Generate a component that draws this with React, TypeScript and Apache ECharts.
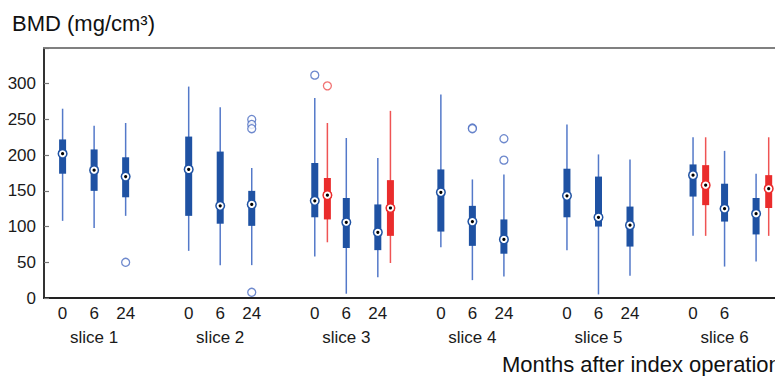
import React, { useEffect, useRef } from "react";
import * as echarts from "echarts";

// Categories
const slices = ["slice 1", "slice 2", "slice 3", "slice 4", "slice 5", "slice 6"];
const months = ["0", "6", "24"];

// Blue boxes: [min, Q1, median, Q3, max] in order slice1(0,6,24), slice2(...), ...
const blueStats: number[][] = [
  [108, 174, 202, 222, 265], [98, 150, 179, 208, 241], [115, 141, 170, 197, 245],
  [66, 115, 180, 226, 296], [46, 104, 129, 205, 267], [46, 101, 131, 150, 182],
  [58, 113, 136, 189, 280], [6, 70, 106, 140, 224], [29, 67, 92, 131, 196],
  [71, 93, 148, 180, 285], [25, 73, 107, 129, 166], [30, 62, 82, 110, 173],
  [67, 113, 143, 181, 243], [5, 100, 113, 170, 201], [31, 72, 102, 128, 194],
  [87, 142, 172, 187, 225], [44, 107, 125, 160, 206], [51, 89, 118, 140, 174],
];

// Red boxes: [slice index, month index, min, Q1, median, Q3, max]
const redStats: number[][] = [
  [2, 0, 78, 110, 144, 168, 245],
  [2, 2, 49, 87, 126, 165, 262],
  [5, 0, 87, 130, 158, 186, 225],
  [5, 2, 87, 126, 153, 172, 225],
];

// Outliers: [slice index, month index, value]
const blueOutliers: number[][] = [
  [0, 2, 50],
  [1, 2, 250], [1, 2, 243], [1, 2, 237], [1, 2, 8],
  [2, 0, 312],
  [3, 1, 238], [3, 1, 237],
  [3, 2, 223], [3, 2, 193],
];
const redOutliers: number[][] = [[2, 0, 297]];

const yTicks = [0, 50, 100, 150, 200, 250, 300];

const RED_OFFSET = 0.4;
const posOf = (s: number, m: number) => s * 4 + m;

const FONT = "'Liberation Sans', Arial, Helvetica, sans-serif";
const BLUE_BOX = "#1f52a3";
const BLUE_WHISKER = "#5479c9";
const RED_BOX = "#ea2c2c";
const RED_WHISKER = "#ef5454";

function makeBoxSeries(data: number[][], boxColor: string, whiskerColor: string) {
  return {
    type: "custom",
    xAxisIndex: 0,
    yAxisIndex: 0,
    encode: { x: 0, y: [1, 2, 3, 4, 5] },
    data,
    renderItem: (params: any, api: any) => {
      const x = api.value(0);
      const pMin = api.coord([x, api.value(1)]);
      const pQ1 = api.coord([x, api.value(2)]);
      const pMed = api.coord([x, api.value(3)]);
      const pQ3 = api.coord([x, api.value(4)]);
      const pMax = api.coord([x, api.value(5)]);
      const w = 7;
      return {
        type: "group",
        children: [
          {
            type: "line",
            shape: { x1: pMin[0], y1: pMin[1], x2: pMax[0], y2: pMax[1] },
            style: { stroke: whiskerColor, lineWidth: 1.5 },
          },
          {
            type: "rect",
            shape: { x: pQ3[0] - w / 2, y: pQ3[1], width: w, height: pQ1[1] - pQ3[1] },
            style: { fill: boxColor },
          },
          {
            type: "circle",
            shape: { cx: pMed[0], cy: pMed[1], r: 4.3 },
            style: { fill: "#ffffff", stroke: boxColor, lineWidth: 1.5 },
          },
          {
            type: "circle",
            shape: { cx: pMed[0], cy: pMed[1], r: 1.6 },
            style: { fill: "#000000" },
          },
        ],
      };
    },
  };
}

export default function App() {
  const ref = useRef<HTMLDivElement>(null);

  useEffect(() => {
    if (!ref.current) return;
    const chart = echarts.init(ref.current, undefined, { renderer: "svg" });

    const blueData = blueStats.map((st, i) => [posOf(Math.floor(i / 3), i % 3), ...st]);
    const redData = redStats.map((r) => [posOf(r[0], r[1]) + RED_OFFSET, r[2], r[3], r[4], r[5], r[6]]);
    const blueOut = blueOutliers.map((o) => [posOf(o[0], o[1]), o[2]]);
    const redOut = redOutliers.map((o) => [posOf(o[0], o[1]) + RED_OFFSET, o[2]]);

    const labelValues: number[] = [];
    slices.forEach((_, s) => months.forEach((_, m) => labelValues.push(posOf(s, m))));

    const xMin = -0.59;
    const xMax = 22.6;

    chart.setOption({
      animation: false,
      backgroundColor: "#ffffff",
      textStyle: { fontFamily: FONT },
      grid: { left: 44, right: 25, top: 48, height: 250 },
      xAxis: [
        {
          type: "value",
          position: "bottom",
          min: xMin,
          max: xMax,
          axisLine: { show: true, onZero: false, lineStyle: { color: "#222222", width: 2 } },
          axisTick: { show: false },
          splitLine: { show: false },
          axisLabel: {
            customValues: labelValues,
            color: "#1a1a1a",
            fontSize: 17,
            fontFamily: FONT,
            margin: 3,
            lineHeight: 24,
            formatter: (v: number) => {
              const r = Math.round(v);
              const s = Math.floor(r / 4);
              const m = r % 4;
              if (m === 1) return months[1] + "\n" + slices[s];
              return months[m] ?? "";
            },
          },
        },
        {
          type: "value",
          position: "top",
          min: xMin,
          max: xMax,
          axisLine: { show: true, onZero: false, lineStyle: { color: "#808080", width: 2 } },
          axisTick: { show: false },
          axisLabel: { show: false },
          splitLine: { show: false },
        },
      ],
      yAxis: {
        type: "value",
        min: 0,
        max: 350,
        interval: 50,
        axisLine: { show: true, onZero: false, lineStyle: { color: "#333333", width: 2 } },
        axisTick: { show: true, inside: true, length: 5, lineStyle: { color: "#777777", width: 1.2 } },
        splitLine: { show: false },
        axisLabel: {
          color: "#1a1a1a",
          fontSize: 17,
          fontFamily: FONT,
          margin: 8,
          formatter: (v: number) => (yTicks.includes(v) ? String(v) : ""),
        },
      },
      graphic: [
        {
          type: "text",
          left: 12,
          top: 12,
          style: { text: "BMD (mg/cm³)", fontSize: 22, fontFamily: FONT, fill: "#111111" },
        },
        {
          type: "text",
          x: 502,
          y: 364,
          style: {
            text: "Months after index operation",
            fontSize: 22,
            fontFamily: FONT,
            fill: "#111111",
            verticalAlign: "middle",
          },
        },
      ],
      series: [
        makeBoxSeries(blueData, BLUE_BOX, BLUE_WHISKER),
        makeBoxSeries(redData, RED_BOX, RED_WHISKER),
        {
          type: "scatter",
          data: blueOut,
          symbol: "circle",
          symbolSize: 8,
          itemStyle: { color: "#ffffff", borderColor: "#4a6cc0", borderWidth: 1.3 },
        },
        {
          type: "scatter",
          data: redOut,
          symbol: "circle",
          symbolSize: 8,
          itemStyle: { color: "#ffffff", borderColor: "#ee5050", borderWidth: 1.3 },
        },
      ],
    });

    return () => chart.dispose();
  }, []);

  return (
    <div
      style={{
        position: "fixed",
        left: 0,
        top: 0,
        width: 775,
        height: 376,
        overflow: "hidden",
        background: "#ffffff",
      }}
    >
      <div ref={ref} style={{ width: 800, height: 376 }} />
    </div>
  );
}
